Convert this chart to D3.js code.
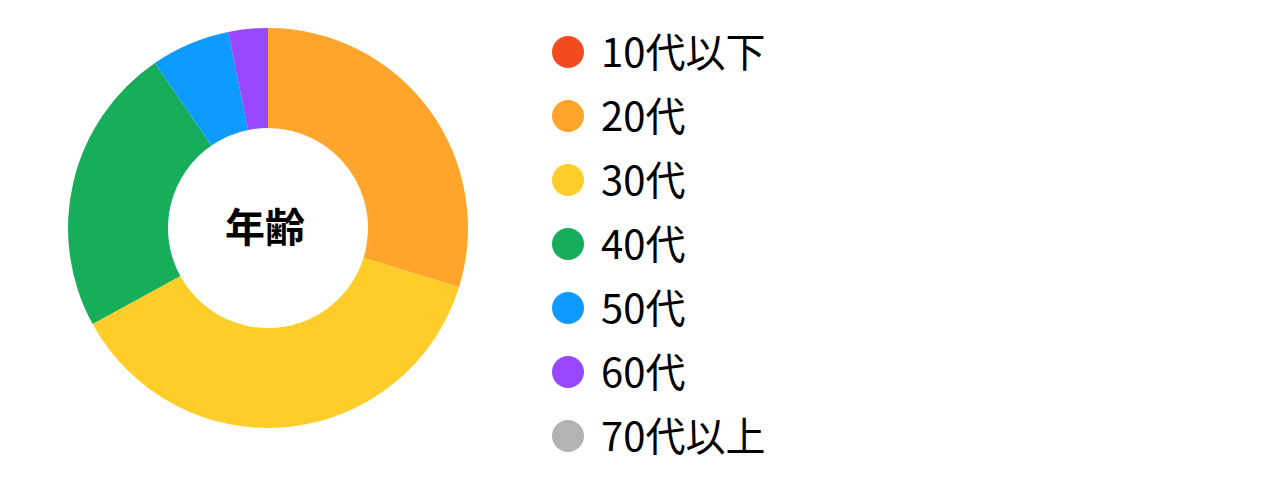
<!DOCTYPE html>
<html>
<head>
<meta charset="utf-8">
<script src="https://cdn.jsdelivr.net/npm/d3@7"></script>
<style>
  html, body { margin: 0; padding: 0; background: #fff; }
  svg text { font-family: "Noto Sans CJK JP", "Noto Sans", sans-serif; }
</style>
</head>
<body>
<svg id="chart" width="1280" height="488"></svg>
<script>
// age groups and respondent counts
var categories = ['10代以下', '20代', '30代', '40代', '50代', '60代', '70代以上'];
var counts = [0, 28, 35, 22, 6, 3, 0];
var colors = ['#F44A22', '#FFA52B', '#FFCD29', '#17AD5B', '#0D9BFF', '#9747FF', '#B3B3B3'];
var centerLabel = '年齢';

var svg = d3.select('#chart');

var data = categories.map(function(c, i) {
  return { name: c, value: counts[i], color: colors[i] };
});

// donut
var pie = d3.pie()
  .sort(null)
  .value(function(d) { return d.value; });

var arc = d3.arc()
  .innerRadius(100)
  .outerRadius(200);

var g = svg.append('g')
  .attr('transform', 'translate(268,228)');

g.selectAll('path')
  .data(pie(data).filter(function(d) { return d.value > 0; }))
  .enter().append('path')
  .attr('d', arc)
  .attr('fill', function(d) { return d.data.color; });

g.append('text')
  .attr('text-anchor', 'middle')
  .attr('x', -3)
  .attr('y', 14)
  .attr('font-size', 40)
  .attr('font-weight', 700)
  .attr('fill', '#000')
  .text(centerLabel);

// legend
var y = d3.scalePoint()
  .domain(categories)
  .range([52, 436]);

var legend = svg.append('g').selectAll('g.item')
  .data(data)
  .enter().append('g')
  .attr('class', 'item')
  .attr('transform', function(d) { return 'translate(568,' + y(d.name) + ')'; });

legend.append('circle')
  .attr('r', 16)
  .attr('fill', function(d) { return d.color; });

legend.append('text')
  .attr('x', 33)
  .attr('y', 15)
  .attr('font-size', 40)
  .attr('fill', '#000')
  .text(function(d) { return d.name; });
</script>
</body>
</html>
